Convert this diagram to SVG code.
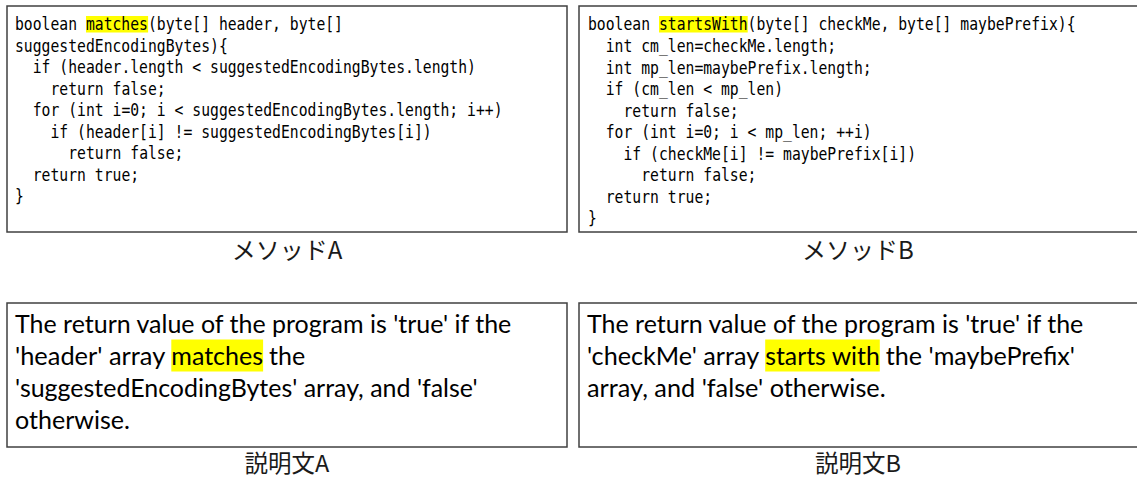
<svg xmlns="http://www.w3.org/2000/svg" width="1137" height="479" viewBox="0 0 1137 479">
  <style>
    .box { fill: #ffffff; stroke: #404040; stroke-width: 1.5; }
    .hl { fill: #ffff00; }
    .code { font-family: "DejaVu Sans Mono", "Liberation Mono", monospace; font-size: 18px; fill: #000000; }
    .desc { font-family: "Lato", "Liberation Sans", sans-serif; font-size: 24.5px; fill: #000000; }
    .label { font-family: "Noto Sans CJK JP", sans-serif; font-size: 24px; fill: #1a1a1a; text-anchor: middle; }
    .caption { font-family: "Noto Sans CJK JP", sans-serif; font-size: 23.5px; fill: #1a1a1a; text-anchor: middle; }
  </style>
  <rect width="1137" height="479" fill="#ffffff"/>

  <!-- Method A source: monospace lines condensed horizontally to an 8.87px cell -->
  <g id="methodA">
    <rect class="box" x="7" y="6" width="560" height="226"/>
    <rect class="hl" x="86" y="16" width="62.1" height="16.5"/>
    <g class="code" transform="translate(15 0) scale(0.8185 1)">
      <text x="0" y="30.5">boolean matches(byte[] header, byte[]</text>
      <text x="0" y="52">suggestedEncodingBytes){</text>
      <text x="21.67" y="73.5">if (header.length &lt; suggestedEncodingBytes.length)</text>
      <text x="43.35" y="95">return false;</text>
      <text x="21.67" y="116.5">for (int i=0; i &lt; suggestedEncodingBytes.length; i++)</text>
      <text x="43.35" y="138">if (header[i] != suggestedEncodingBytes[i])</text>
      <text x="65.02" y="159.5">return false;</text>
      <text x="21.67" y="181">return true;</text>
      <text x="0" y="202.5">}</text>
    </g>
    <text class="label" x="287" y="258.5">メソッドA</text>
  </g>

  <!-- Method B source -->
  <g id="methodB">
    <rect class="box" x="579" y="6" width="561" height="226"/>
    <rect class="hl" x="659" y="16" width="88.7" height="16.5"/>
    <g class="code" transform="translate(588 0) scale(0.8185 1)">
      <text x="0" y="30.5">boolean startsWith(byte[] checkMe, byte[] maybePrefix){</text>
      <text x="21.67" y="52.05">int cm_len=checkMe.length;</text>
      <text x="21.67" y="73.6">int mp_len=maybePrefix.length;</text>
      <text x="21.67" y="95.15">if (cm_len &lt; mp_len)</text>
      <text x="43.35" y="116.7">return false;</text>
      <text x="21.67" y="138.25">for (int i=0; i &lt; mp_len; ++i)</text>
      <text x="43.35" y="159.8">if (checkMe[i] != maybePrefix[i])</text>
      <text x="65.02" y="181.35">return false;</text>
      <text x="21.67" y="202.9">return true;</text>
      <text x="0" y="224.45">}</text>
    </g>
    <text class="label" x="858" y="258.5">メソッドB</text>
  </g>

  <!-- Description A -->
  <g id="descA">
    <rect class="box" x="7" y="303" width="560" height="144"/>
    <rect class="hl" x="171.3" y="339.5" width="91.8" height="32"/>
    <g class="desc">
      <text x="15" y="332.5" textLength="496.3" lengthAdjust="spacingAndGlyphs">The return value of the program is 'true' if the</text>
      <text x="15" y="364.8" textLength="150.3" lengthAdjust="spacingAndGlyphs">'header' array</text>
      <text x="171.3" y="364.8" textLength="91.8" lengthAdjust="spacingAndGlyphs">matches</text>
      <text x="269.1" y="364.8" textLength="36.1" lengthAdjust="spacingAndGlyphs">the</text>
      <text x="15" y="397.1" textLength="462.6" lengthAdjust="spacingAndGlyphs">'suggestedEncodingBytes' array, and 'false'</text>
      <text x="15" y="429.4" textLength="114.9" lengthAdjust="spacingAndGlyphs">otherwise.</text>
    </g>
    <text class="caption" x="287" y="472">説明文A</text>
  </g>

  <!-- Description B -->
  <g id="descB">
    <rect class="box" x="579" y="303" width="561" height="144"/>
    <rect class="hl" x="765.2" y="339.5" width="114.6" height="32"/>
    <g class="desc">
      <text x="587" y="332.5" textLength="496.3" lengthAdjust="spacingAndGlyphs">The return value of the program is 'true' if the</text>
      <text x="587" y="364.8" textLength="172.2" lengthAdjust="spacingAndGlyphs">'checkMe' array</text>
      <text x="765.2" y="364.8" textLength="114.6" lengthAdjust="spacingAndGlyphs">starts with</text>
      <text x="885.8" y="364.8" textLength="189.2" lengthAdjust="spacingAndGlyphs">the 'maybePrefix'</text>
      <text x="587" y="397.1" textLength="298.7" lengthAdjust="spacingAndGlyphs">array, and 'false' otherwise.</text>
    </g>
    <text class="caption" x="858" y="472">説明文B</text>
  </g>
</svg>
